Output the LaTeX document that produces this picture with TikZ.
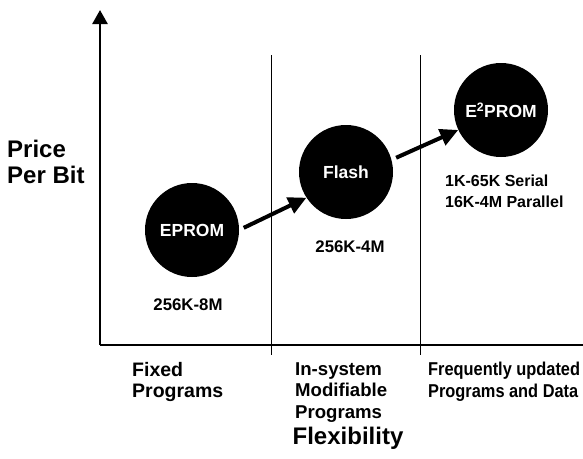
\documentclass[tikz,border=0pt]{standalone}
\usepackage{fontspec}
\setmainfont{Liberation Sans}
\newfontfamily\narrowsans[FakeStretch=0.88]{Liberation Sans}
\usepackage{tikz}
\usetikzlibrary{positioning}
\usetikzlibrary{arrows.meta,calc}
\tikzset{
    chart/.style={x=1pt, y=-1pt, font=\bfseries},
    axis/.style={line width=2pt},
    divider/.style={line width=0.8pt},
    chip/.style={circle, fill=black, text=white, minimum size=94pt,
                 inner sep=0pt, font=\bfseries\fontsize{17.5}{20}\selectfont},
    sizelabel/.style={align=left, inner sep=0pt,
                  font=\bfseries\fontsize{16.8}{21}\selectfont},
    uselabel/.style={align=left, inner sep=0pt, anchor=north west,
                font=\bfseries\fontsize{#1}{21.5}\selectfont},
    uselabel/.default=18.6,
    biglabel/.style={align=left, inner sep=0pt,
                  font=\bfseries\fontsize{24}{26}\selectfont},
    upgrade/.style={-{Triangle[length=18pt,width=17pt]}, line width=4pt,
                 shorten <=5pt},
    }
\begin{document}
\begin{tikzpicture}[chart]
    \useasboundingbox (0,0) rectangle (583,458);

    % axes
    \coordinate (origin) at (100,345);
    \coordinate (ytop) at (100,10);
    \coordinate (xend) at (583,345);
    \draw[axis] (origin) -- (xend);
    \draw[axis, line width=2.6pt, -{Triangle[length=14pt,width=15pt]}] (origin) -- (ytop);

    % column dividers
    \coordinate (d1top) at (271,55);
    \coordinate (d1bot) at (271,355);
    \coordinate (d2top) at (420,55);
    \coordinate (d2bot) at (420,355);
    \draw[divider] (d1top) -- (d1bot);
    \draw[divider] (d2top) -- (d2bot);

    % memory types
    \node[chip] (eprom) at (192,230) {EPROM};
    \node[chip] (flash) at (346,172) {Flash};
    \node[chip] (eeprom) at (501,110) {E\textsuperscript{2}PROM};

    \node[sizelabel, below=21pt of eprom, xshift=-4pt] (epromsize) {256K-8M};
    \node[sizelabel, below=21pt of flash, xshift=4pt] (flashsize) {256K-4M};
    \node[sizelabel, anchor=north west, font=\bfseries\fontsize{16}{21}\selectfont]
        (eepromsize) at (445,175) {1K-65K Serial\\16K-4M Parallel};

    \draw[upgrade] (eprom.0) -- (flash.213);
    \draw[upgrade] (flash.15) -- (eeprom.205);

    % axis labels
    \node[uselabel=19.5] (fixed) at (132,362) {Fixed\\Programs};
    \node[uselabel] (insys) at (295,362) {In-system\\Modifiable\\Programs};
    \node[uselabel, font=\narrowsans\bfseries\fontsize{18.6}{21.5}\selectfont]
        (freq) at (428,362) {Frequently updated\\Programs and Data};

    \node[biglabel, anchor=west] (price) at (7,162) {Price\\Per Bit};
    \node[biglabel] (flex) at (348,438) {Flexibility};
\end{tikzpicture}
\end{document}
